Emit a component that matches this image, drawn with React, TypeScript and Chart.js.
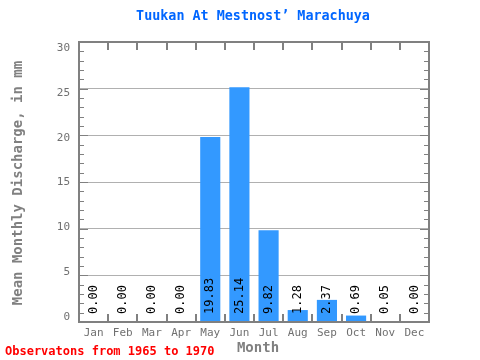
import React, { useEffect, useRef } from "react";
import { Chart, registerables } from "chart.js";

Chart.register(...registerables);

const months = ["Jan", "Feb", "Mar", "Apr", "May", "Jun", "Jul", "Aug", "Sep", "Oct", "Nov", "Dec"];
const discharge = [0.0, 0.0, 0.0, 0.0, 19.83, 25.14, 9.82, 1.28, 2.37, 0.69, 0.05, 0.0];
const yTicks = [0, 5, 10, 15, 20, 25, 30];
const titleText = "Tuukan At Mestnost\u2019 Marachuya";
const yLabel = "Mean Monthly Discharge, in mm";
const xLabel = "Month";
const footnote = "Observatons from 1965 to 1970";

const MONO = "'DejaVu Sans Mono', 'Liberation Mono', monospace";

const decorPlugin = {
  id: "decor",
  afterDatasetsDraw(chart: any) {
    const { ctx, chartArea: a, scales } = chart;
    const y = scales.y;
    const x = scales.x;
    ctx.save();
    // frame
    ctx.strokeStyle = "#808080";
    ctx.lineWidth = 2;
    ctx.strokeRect(a.left, a.top, a.right - a.left, a.bottom - a.top);
    // y minor/major ticks on both sides
    ctx.lineWidth = 1;
    for (let v = 0; v <= 30; v++) {
      const py = Math.round(y.getPixelForValue(v)) + 0.5;
      const len = v % 5 === 0 ? 9 : 5;
      ctx.beginPath();
      ctx.moveTo(a.left, py);
      ctx.lineTo(a.left + len, py);
      ctx.moveTo(a.right, py);
      ctx.lineTo(a.right - len, py);
      ctx.stroke();
    }
    // y tick labels (slightly compressed spacing as in the reference)
    ctx.fillStyle = "#707070";
    ctx.font = `11px ${MONO}`;
    ctx.textAlign = "right";
    ctx.textBaseline = "middle";
    const yTop = y.getPixelForValue(30) + 6;
    const yBot = y.getPixelForValue(0) - 5;
    yTicks.forEach((v) => {
      const py = yBot + ((yTop - yBot) * v) / 30;
      ctx.fillText(String(v), a.left - 9, py);
    });
    // x ticks between categories, top and bottom
    ctx.lineWidth = 2;
    const n = months.length;
    const w = (a.right - a.left) / n;
    for (let i = 1; i < n; i++) {
      const px = Math.round(a.left + i * w);
      ctx.beginPath();
      ctx.moveTo(px, a.bottom);
      ctx.lineTo(px, a.bottom - 8);
      ctx.moveTo(px, a.top);
      ctx.lineTo(px, a.top + 8);
      ctx.stroke();
    }
    // x tick labels
    ctx.textAlign = "center";
    months.forEach((m, i) => {
      ctx.fillText(m, x.getPixelForValue(i), a.bottom + 11);
    });
    // value labels
    const meta = chart.getDatasetMeta(0);
    ctx.fillStyle = "#000000";
    ctx.font = `12px ${MONO}`;
    ctx.textAlign = "left";
    ctx.textBaseline = "middle";
    meta.data.forEach((bar: any, i: number) => {
      ctx.save();
      ctx.translate(bar.x, a.bottom - 8);
      ctx.rotate(-Math.PI / 2);
      ctx.fillText(discharge[i].toFixed(2), 0, 0);
      ctx.restore();
    });
    // title
    ctx.fillStyle = "#0066ff";
    ctx.font = `bold 13.4px ${MONO}`;
    ctx.textAlign = "center";
    ctx.textBaseline = "middle";
    ctx.fillText(titleText, 253, 17);
    // x label
    ctx.fillStyle = "#808080";
    ctx.font = `bold 14px ${MONO}`;
    ctx.fillText(xLabel, 258, 348);
    // y label
    ctx.save();
    ctx.translate(18, 183);
    ctx.rotate(-Math.PI / 2);
    ctx.fillText(yLabel, 0, 0);
    ctx.restore();
    // footnote
    ctx.fillStyle = "#ff0000";
    ctx.font = `bold 12px ${MONO}`;
    ctx.textAlign = "left";
    ctx.fillText(footnote, 5, 352);
    ctx.restore();
  },
};

export default function App() {
  const ref = useRef<HTMLCanvasElement>(null);
  useEffect(() => {
    if (!ref.current) return;
    const chart = new Chart(ref.current, {
      type: "bar",
      data: {
        labels: months,
        datasets: [
          {
            data: discharge,
            backgroundColor: "#3399ff",
            borderWidth: 0,
            barPercentage: 0.69,
            categoryPercentage: 1,
          },
        ],
      },
      options: {
        animation: false,
        responsive: false,
        maintainAspectRatio: false,
        layout: { padding: { left: 79, right: 51, top: 42, bottom: 38 } },
        plugins: { legend: { display: false }, title: { display: false }, tooltip: { enabled: false } },
        scales: {
          x: {
            grid: { display: false, drawTicks: false },
            border: { display: false },
            ticks: { display: false },
            afterFit: (s: any) => {
              s.height = 0;
            },
          },
          y: {
            min: 0,
            max: 30,
            afterBuildTicks: (s: any) => {
              s.ticks = yTicks.map((v) => ({ value: v }));
            },
            grid: { color: "#b0b0b0", lineWidth: 1, drawTicks: false },
            border: { display: false },
            ticks: { display: false },
            afterFit: (s: any) => {
              s.width = 0;
            },
          },
        },
      },
      plugins: [decorPlugin],
    });
    return () => chart.destroy();
  }, []);
  return (
    <div style={{ position: "fixed", left: 0, top: 0, width: 480, height: 360, background: "#fff" }}>
      <canvas ref={ref} width={480} height={360} style={{ width: 480, height: 360 }} />
    </div>
  );
}
